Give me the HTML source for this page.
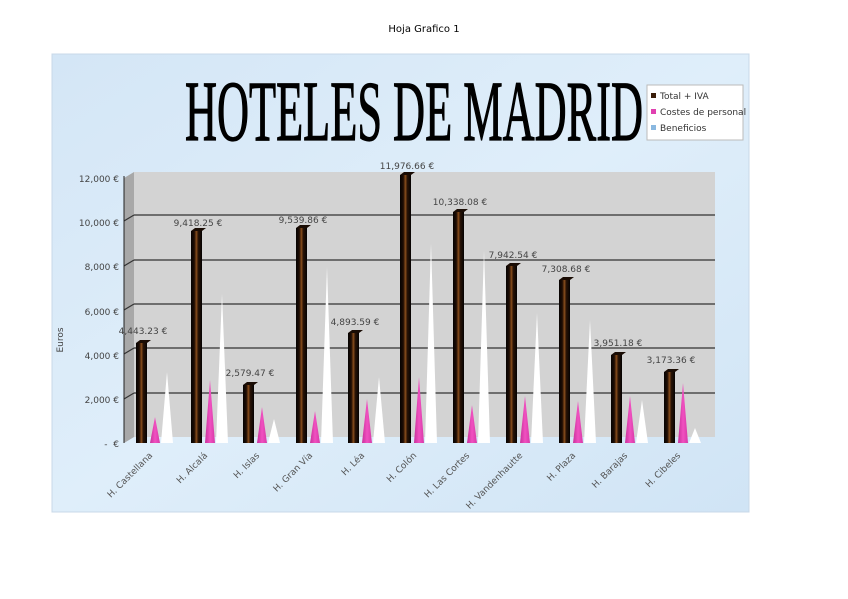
<!DOCTYPE html>
<html><head><meta charset="utf-8"><style>
html,body{margin:0;padding:0;background:#fff;}
svg{display:block;font-family:"DejaVu Sans","Liberation Sans",sans-serif;}
</style></head><body>
<svg width="848" height="599" viewBox="0 0 848 599" xmlns="http://www.w3.org/2000/svg">
<defs>
<linearGradient id="bar" x1="0" x2="1" y1="0" y2="0">
<stop offset="0" stop-color="#050202"/><stop offset="0.3" stop-color="#1e0d04"/><stop offset="0.5" stop-color="#8a4e1c"/><stop offset="0.65" stop-color="#2a1406"/><stop offset="1" stop-color="#040202"/>
</linearGradient>
<linearGradient id="pink" x1="0" x2="1"><stop offset="0" stop-color="#c8309a"/><stop offset="0.5" stop-color="#f050c0"/><stop offset="1" stop-color="#d83aa8"/></linearGradient>
<linearGradient id="bg" x1="0" y1="0" x2="1" y2="1"><stop offset="0" stop-color="#d4e6f6"/><stop offset="0.5" stop-color="#dfeefa"/><stop offset="1" stop-color="#d0e4f5"/></linearGradient>
</defs>
<text x="424" y="32" font-size="10" text-anchor="middle" fill="#000">Hoja Grafico 1</text>
<rect x="52" y="54" width="697" height="458" fill="url(#bg)" stroke="#c8d8e8"/>
<rect x="134" y="172" width="581" height="265" fill="#d3d3d3"/>
<polygon points="124,178 134,172 134,437 124,443" fill="#a8a8a8"/>
<g stroke="#333" stroke-width="1.2">
<line x1="134" y1="215" x2="715" y2="215"/><line x1="134" y1="260" x2="715" y2="260"/>
<line x1="134" y1="304" x2="715" y2="304"/><line x1="134" y1="348" x2="715" y2="348"/>
<line x1="134" y1="393" x2="715" y2="393"/>
<line x1="124" y1="221" x2="134" y2="215"/><line x1="124" y1="266" x2="134" y2="260"/>
<line x1="124" y1="310" x2="134" y2="304"/><line x1="124" y1="354" x2="134" y2="348"/>
<line x1="124" y1="399" x2="134" y2="393"/>
</g>
<line x1="124" y1="176" x2="124" y2="443" stroke="#222"/>
<g font-size="9" fill="#444" text-anchor="end">
<text x="119" y="182">12,000 €</text><text x="119" y="226">10,000 €</text>
<text x="119" y="270">8,000 €</text><text x="119" y="315">6,000 €</text>
<text x="119" y="359">4,000 €</text><text x="119" y="403">2,000 €</text>
<text x="119" y="447">-&#160;&#160;€</text>
</g>
<text x="63" y="340" font-size="9" fill="#444" transform="rotate(-90 63 340)" text-anchor="middle">Euros</text>

<g font-size="9" fill="#444" text-anchor="middle">
<g transform="translate(141,0)"><polygon points="-5,343 -1,340 10,340 6,343" fill="#1a0c04"/><rect x="-5" y="343" width="11" height="100" fill="url(#bar)"/><polygon points="9,443 14,417 19,443" fill="url(#pink)"/><polygon points="20,443 26,372 32,443" fill="#fff"/><text x="2" y="334">4,443.23 €</text></g>
<g transform="translate(196,0)"><polygon points="-5,231 -1,228 10,228 6,231" fill="#1a0c04"/><rect x="-5" y="231" width="11" height="212" fill="url(#bar)"/><polygon points="9,443 14,380 19,443" fill="url(#pink)"/><polygon points="20,443 26,294 32,443" fill="#fff"/><text x="2" y="226">9,418.25 €</text></g>
<g transform="translate(248,0)"><polygon points="-5,385 -1,382 10,382 6,385" fill="#1a0c04"/><rect x="-5" y="385" width="11" height="58" fill="url(#bar)"/><polygon points="9,443 14,407 19,443" fill="url(#pink)"/><polygon points="20,443 26,419 32,443" fill="#fff"/><text x="2" y="376">2,579.47 €</text></g>
<g transform="translate(301,0)"><polygon points="-5,228 -1,225 10,225 6,228" fill="#1a0c04"/><rect x="-5" y="228" width="11" height="215" fill="url(#bar)"/><polygon points="9,443 14,411 19,443" fill="url(#pink)"/><polygon points="20,443 26,267 32,443" fill="#fff"/><text x="2" y="223">9,539.86 €</text></g>
<g transform="translate(353,0)"><polygon points="-5,333 -1,330 10,330 6,333" fill="#1a0c04"/><rect x="-5" y="333" width="11" height="110" fill="url(#bar)"/><polygon points="9,443 14,399 19,443" fill="url(#pink)"/><polygon points="20,443 26,377 32,443" fill="#fff"/><text x="2" y="325">4,893.59 €</text></g>
<g transform="translate(405,0)"><polygon points="-5,175 -1,172 10,172 6,175" fill="#1a0c04"/><rect x="-5" y="175" width="11" height="268" fill="url(#bar)"/><polygon points="9,443 14,377 19,443" fill="url(#pink)"/><polygon points="20,443 26,243 32,443" fill="#fff"/><text x="2" y="169">11,976.66 €</text></g>
<g transform="translate(458,0)"><polygon points="-5,212 -1,209 10,209 6,212" fill="#1a0c04"/><rect x="-5" y="212" width="11" height="231" fill="url(#bar)"/><polygon points="9,443 14,405 19,443" fill="url(#pink)"/><polygon points="20,443 26,250 32,443" fill="#fff"/><text x="2" y="205">10,338.08 €</text></g>
<g transform="translate(511,0)"><polygon points="-5,266 -1,263 10,263 6,266" fill="#1a0c04"/><rect x="-5" y="266" width="11" height="177" fill="url(#bar)"/><polygon points="9,443 14,396 19,443" fill="url(#pink)"/><polygon points="20,443 26,313 32,443" fill="#fff"/><text x="2" y="258">7,942.54 €</text></g>
<g transform="translate(564,0)"><polygon points="-5,280 -1,277 10,277 6,280" fill="#1a0c04"/><rect x="-5" y="280" width="11" height="163" fill="url(#bar)"/><polygon points="9,443 14,401 19,443" fill="url(#pink)"/><polygon points="20,443 26,320 32,443" fill="#fff"/><text x="2" y="272">7,308.68 €</text></g>
<g transform="translate(616,0)"><polygon points="-5,355 -1,352 10,352 6,355" fill="#1a0c04"/><rect x="-5" y="355" width="11" height="88" fill="url(#bar)"/><polygon points="9,443 14,396 19,443" fill="url(#pink)"/><polygon points="20,443 26,400 32,443" fill="#fff"/><text x="2" y="346">3,951.18 €</text></g>
<g transform="translate(669,0)"><polygon points="-5,372 -1,369 10,369 6,372" fill="#1a0c04"/><rect x="-5" y="372" width="11" height="71" fill="url(#bar)"/><polygon points="9,443 14,383 19,443" fill="url(#pink)"/><polygon points="20,443 26,428 32,443" fill="#fff"/><text x="2" y="363">3,173.36 €</text></g>
</g>

<g font-size="9" fill="#555" text-anchor="end">
<text transform="translate(153,456) rotate(-45)">H. Castellana</text>
<text transform="translate(208,456) rotate(-45)">H. Alcalá</text>
<text transform="translate(260,456) rotate(-45)">H. Islas</text>
<text transform="translate(313,456) rotate(-45)">H. Gran Vía</text>
<text transform="translate(365,456) rotate(-45)">H. Léa</text>
<text transform="translate(417,456) rotate(-45)">H. Colón</text>
<text transform="translate(470,456) rotate(-45)">H. Las Cortes</text>
<text transform="translate(523,456) rotate(-45)">H. Vandenhautte</text>
<text transform="translate(576,456) rotate(-45)">H. Plaza</text>
<text transform="translate(628,456) rotate(-45)">H. Barajas</text>
<text transform="translate(681,456) rotate(-45)">H. Cibeles</text>
</g>

<rect x="647" y="85" width="96" height="55" fill="#fff" stroke="#bbb"/>
<rect x="651" y="93" width="5" height="5" fill="#3a1d0a"/>
<rect x="651" y="109" width="5" height="5" fill="#e040b0"/>
<rect x="651" y="125" width="5" height="5" fill="#8ab8e0"/>
<g font-size="9" fill="#333"><text x="660" y="99">Total + IVA</text><text x="660" y="115">Costes de personal</text><text x="660" y="131">Beneficios</text></g>
<text x="185" y="140" font-family="'Liberation Serif',serif" font-size="86" textLength="458" lengthAdjust="spacingAndGlyphs" fill="#000" stroke="#000" stroke-width="1.2">HOTELES DE MADRID</text>
</svg>
</body></html>
